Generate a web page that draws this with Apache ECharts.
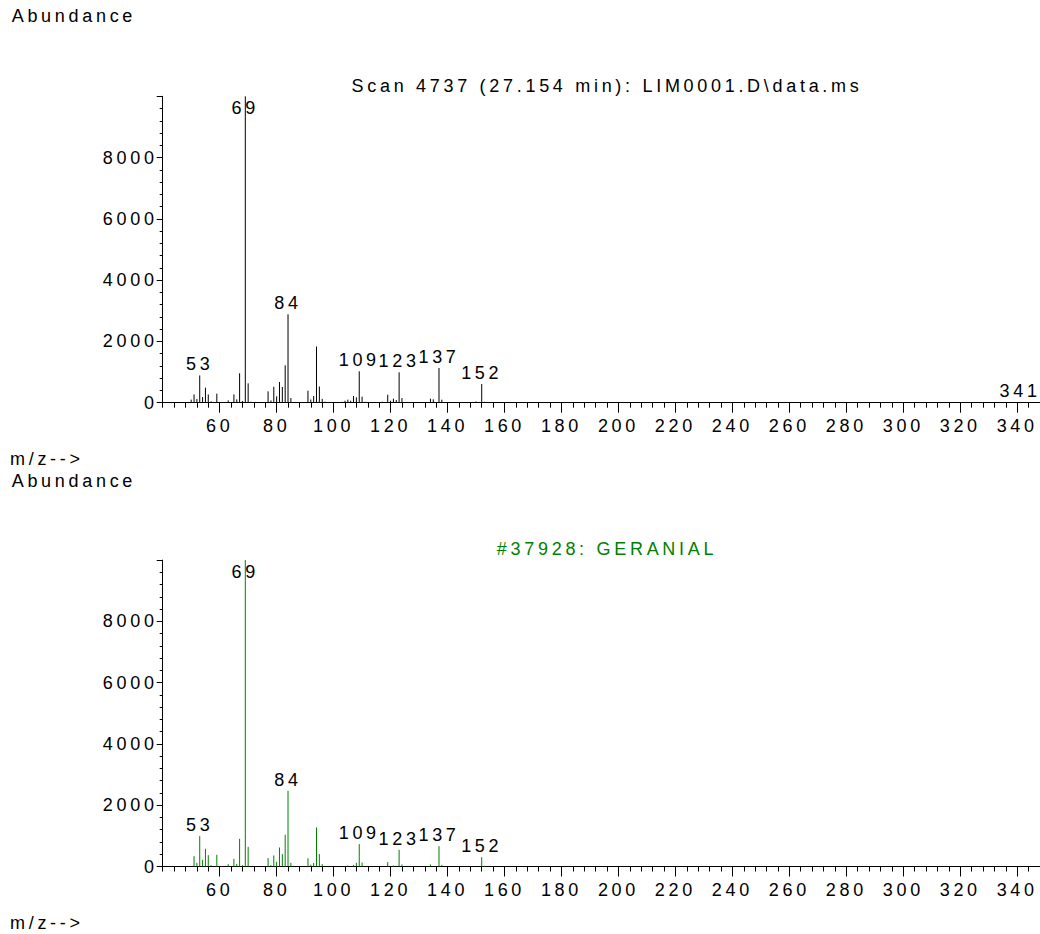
<!DOCTYPE html>
<html><head><meta charset="utf-8">
<script src="https://cdn.jsdelivr.net/npm/echarts@6/dist/echarts.min.js"></script>
<style>
html,body{margin:0;padding:0;background:#fff;}
#chart{width:1040px;height:934px;}
#chart text{letter-spacing:3.7px;}
</style></head><body><div id="chart"></div>
<script>
// ---- data (m/z, abundance) ----
const mzTop = [50,51,52,53,54,55,56,57,59,63,65,66,67,68,69,70,71,77,78,79,80,81,82,83,84,85,91,92,93,94,95,96,97,103,104,105,106,107,108,109,110,111,117,119,120,121,122,123,124,134,135,137,138,150,152,153,341];
const abTop = [100,270,120,890,185,490,270,45,295,75,270,110,960,55,10000,632,30,370,75,520,207,675,512,1220,2886,150,392,105,218,1835,528,125,35,30,65,100,65,218,174,1024,196,30,30,260,65,130,87,992,152,130,109,1133,98,40,610,30,20];
const labelTop = [53,69,84,109,123,137,152,341];

const mzBot = [51,52,53,54,55,56,57,59,63,65,66,67,68,69,70,77,78,79,80,81,82,83,84,85,91,92,93,94,95,96,105,107,108,109,110,119,121,123,124,134,137,138,152,153];
const abBot = [338,120,991,218,577,370,44,381,76,250,87,904,44,10000,642,272,44,360,152,620,403,1035,2472,120,267,60,115,1275,403,76,33,54,120,730,130,142,33,545,65,65,664,54,305,22];
const labelBot = [53,69,84,109,123,137,152];

const xMajorTicks = [60,80,100,120,140,160,180,200,220,240,260,280,300,320,340];
const yMajorTicks = [0,2000,4000,6000,8000];

const titleTop = 'Scan 4737 (27.154 min): LIM0001.D\\data.ms';
const titleBot = '#37928: GERANIAL';
const yName = 'Abundance';
const xName = 'm/z-->';

const FONT = '"Liberation Sans", Arial, sans-serif';
const GREEN = '#008000';

const chart = echarts.init(document.getElementById('chart'), null, {renderer:'svg', width:1040, height:934});

function peakSeries(mz, ab, labels, color, g){
  const data = mz.map((m,i)=>[m, ab[i]]);
  return {
    type:'custom', xAxisIndex: g*2, yAxisIndex: g, data: data, clip:false, silent:true,
    renderItem: function(params, api){
      const x = api.value(0), y = api.value(1);
      const p0 = api.coord([x,0]), p1 = api.coord([x,y]);
      const children = [{type:'line', shape:{x1:p0[0], y1:p0[1], x2:p1[0], y2:p1[1]}, style:{stroke:color, lineWidth:1}}];
      if (labels.indexOf(x) >= 0) {
        const cs = params.coordSys;
        const ly = Math.max(p1[1]-11, cs.y + 12);
        children.push({type:'text', x:p1[0], y:ly, style:{text:String(x), font:'18px '+FONT, fill:'#000', align:'center', verticalAlign:'middle'}});
      }
      return {type:'group', children: children};
    }
  };
}

const grids = [
  {left:162.7, top:96.3, width:877.4, height:306.4},
  {left:162.7, top:560.1, width:877.4, height:306.4}
];
const axLine = {show:true, onZero:false, lineStyle:{color:'#000', width:1}};
const xAxes = [], yAxes = [];
[0,1].forEach(function(g){
  xAxes.push({type:'value', gridIndex:g, position:'bottom', min:40, max:348, axisLine:axLine,
    axisTick:{show:true, customValues:xMajorTicks, length:10, lineStyle:{color:'#000'}},
    axisLabel:{customValues:xMajorTicks, margin:14, fontSize:18, color:'#000', fontFamily:FONT,
      formatter:function(v){return String(v);}},
    splitLine:{show:false}});
  xAxes.push({type:'value', gridIndex:g, position:'bottom', offset:0, min:40, max:348, interval:4, axisLine:axLine,
    axisTick:{show:true, length:5, lineStyle:{color:'#000'}},
    axisLabel:{show:false}, splitLine:{show:false}});
  yAxes.push({type:'value', gridIndex:g, position:'left', min:0, max:10000, interval:2000, axisLine:axLine,
    axisTick:{show:true, length:6, lineStyle:{color:'#000'}},
    minorTick:{show:true, splitNumber:5, length:3, lineStyle:{color:'#000'}},
    axisLabel:{customValues:yMajorTicks, margin:5, fontSize:18, color:'#000', fontFamily:FONT,
      formatter:function(v){return String(v);}},
    splitLine:{show:false}, minorSplitLine:{show:false}});
});

function txt(s, x, y, align, fill){
  return {type:'text', x:x, y:y, silent:true, style:{text:s, font:'18px '+FONT, fill:fill||'#000', align:align, verticalAlign:'middle'}};
}

chart.setOption({
  animation:false,
  backgroundColor:'#fff',
  grid: grids,
  xAxis: xAxes,
  yAxis: yAxes,
  series: [
    peakSeries(mzTop, abTop, labelTop, '#000', 0),
    peakSeries(mzBot, abBot, labelBot, GREEN, 1)
  ],
  graphic: [
    txt(yName, 11.7, 16.3, 'left'),
    txt(xName, 10, 458.8, 'left'),
    txt(yName, 11.7, 481.3, 'left'),
    txt(xName, 10, 922.5, 'left'),
    txt(titleTop, 607, 86, 'center'),
    txt(titleBot, 607, 549, 'center', GREEN)
  ]
});
</script></body></html>
